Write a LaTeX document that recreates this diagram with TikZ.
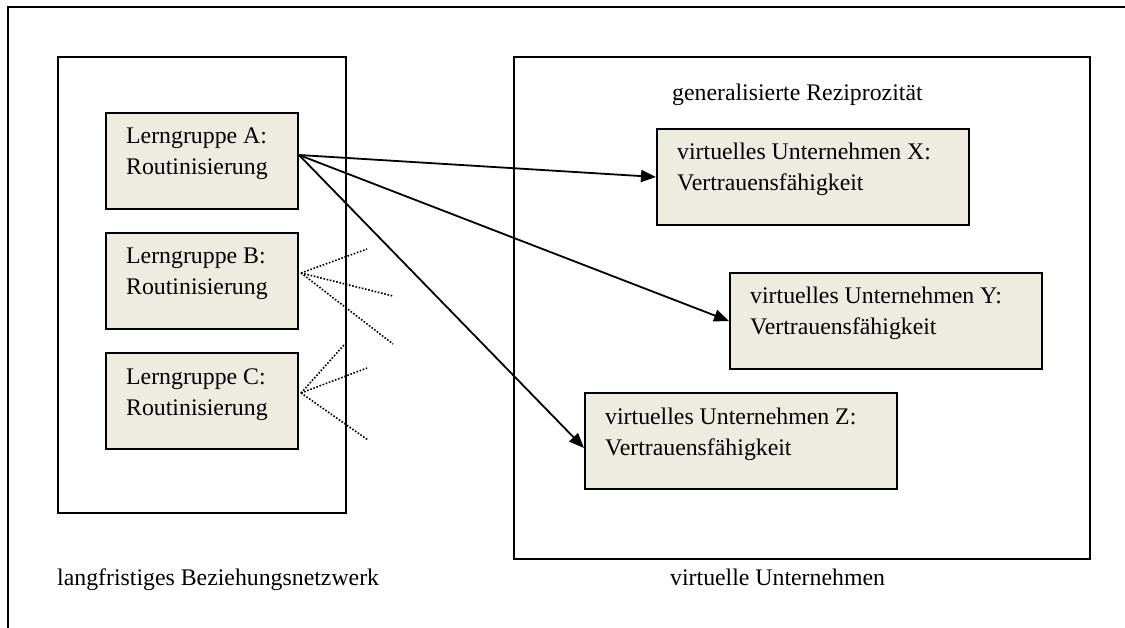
\documentclass[tikz,border=0pt]{standalone}
\usepackage{fontspec}
\setmainfont{Liberation Serif}
\usetikzlibrary{arrows.meta,calc}
\definecolor{boxfill}{HTML}{EEECE1}
\begin{document}
\begin{tikzpicture}[x=1pt,y=-1pt,
  txt/.style={font=\fontsize{23.8}{31}\selectfont, inner sep=0pt, align=left},
  frame/.style={draw, line width=2pt},
  group/.style={draw, line width=2pt, fill=boxfill, minimum width=192, minimum height=96, anchor=north west, inner sep=0pt},
  venture/.style={draw, line width=2pt, fill=boxfill, minimum width=312, minimum height=96, anchor=north west, inner sep=0pt},
  link/.style={line width=1.8pt, -{Triangle[length=15pt,width=12pt]}},
  weak/.style={line width=1.6pt, dash pattern=on 1.6pt off 1.7pt}
]
\useasboundingbox (0,0) rectangle (1125,628);

% outer frame (top and left edges only)
\draw[line width=2pt] (8,628) -- (8,7) -- (1125,7);

% the two areas
\node[frame, minimum width=288, minimum height=456, anchor=north west, inner sep=0pt] (net) at (57,56) {};
\node[frame, minimum width=576, minimum height=502, anchor=north west, inner sep=0pt] (vu) at (513,56) {};

% learning groups (text anchored at the baseline of its last line)
\node[group] (A) at (105,112) {};
\node[group] (B) at (105,232) {};
\node[group] (C) at (105,352) {};
\node[txt, anchor=base west] (At) at ($(A.north west)+(21,63)$) {Lerngruppe A:\\Routinisierung};
\node[txt, anchor=base west] (Bt) at ($(B.north west)+(21,63)$) {Lerngruppe B:\\Routinisierung};
\node[txt, anchor=base west] (Ct) at ($(C.north west)+(21,63)$) {Lerngruppe C:\\Routinisierung};

% virtual enterprises
\node[venture] (X) at (656,128) {};
\node[venture] (Y) at (729,272) {};
\node[venture] (Z) at (584,392) {};
\node[txt, anchor=base west] (Xt) at ($(X.north west)+(21,63)$) {virtuelles Unternehmen X:\\Vertrauensfähigkeit};
\node[txt, anchor=base west] (Yt) at ($(Y.north west)+(21,63)$) {virtuelles Unternehmen Y:\\Vertrauensfähigkeit};
\node[txt, anchor=base west] (Zt) at ($(Z.north west)+(21,63)$) {virtuelles Unternehmen Z:\\Vertrauensfähigkeit};

% captions
\node[txt, anchor=base west] (recip) at (672,101) {generalisierte Reziprozität};
\node[txt, anchor=base west] (netcap) at (57,585) {langfristiges Beziehungsnetzwerk};
\node[txt, anchor=base west] (vucap) at (670,585) {virtuelle Unternehmen};

% links from group A
\coordinate (Aout) at ($(A.east)+(0,-6)$);
\draw[link] (Aout) -- (X.west);
\draw[link] (Aout) -- (Y.west);
\draw[link] (Aout) -- ($(Z.west)+(0,7)$);

% loose ends from groups B and C
\coordinate (Bout) at ($(B.east)+(2,-8)$);
\coordinate (b1) at (367,249);
\coordinate (b2) at (393,296);
\coordinate (b3) at (393,344);
\draw[weak] (Bout) -- (b1);
\draw[weak] (Bout) -- (b2);
\draw[weak] (Bout) -- (b3);
\coordinate (Cout) at ($(C.east)+(2,-8)$);
\coordinate (c1) at (344,345);
\coordinate (c2) at (367,368);
\coordinate (c3) at (368,440);
\draw[weak] (Cout) -- (c1);
\draw[weak] (Cout) -- (c2);
\draw[weak] (Cout) -- (c3);
\end{tikzpicture}
\end{document}
